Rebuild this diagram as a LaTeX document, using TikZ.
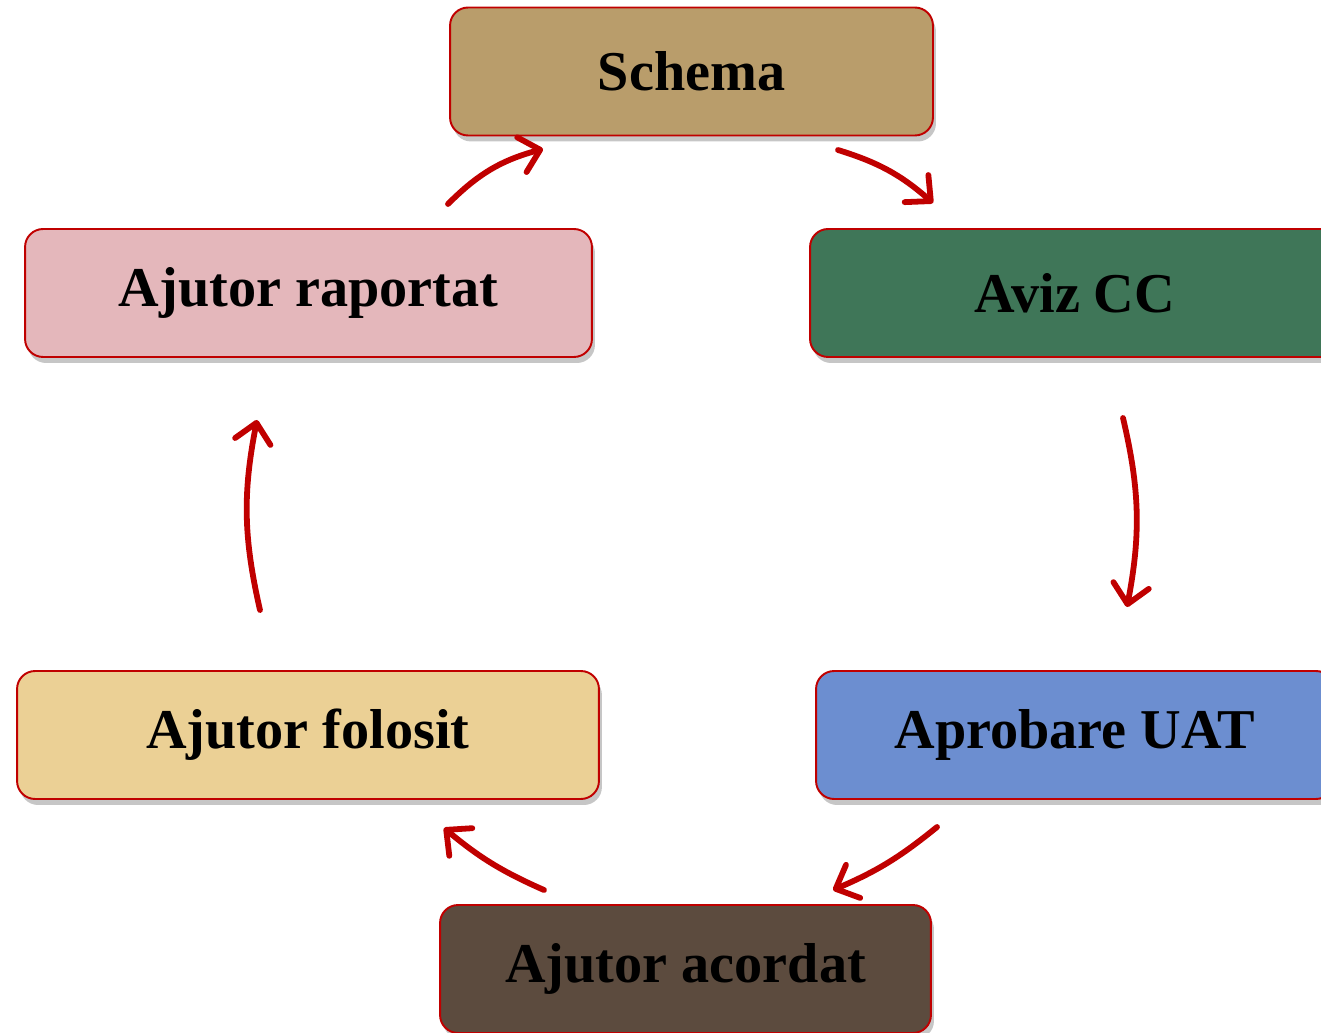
\documentclass[tikz,border=0pt]{standalone}
\usepackage{fontspec}
\setmainfont{Liberation Serif}
\usetikzlibrary{arrows.meta,shadows}

\definecolor{edgered}{HTML}{C00000}
\definecolor{burlap}{HTML}{B99D6B}
\definecolor{rosepaper}{HTML}{E4B7BB}
\definecolor{marblegreen}{HTML}{3F7658}
\definecolor{papyrus}{HTML}{EBD095}
\definecolor{denim}{HTML}{6C8ED0}
\definecolor{leather}{HTML}{5C4B3E}

\begin{document}
\begin{tikzpicture}[x=0.02cm,y=0.02cm,
        stage/.style={draw=edgered, line width=1.1pt, rounded corners=0.36cm,
                      minimum height=2.56cm, inner sep=0pt,
                      font=\fontsize{32}{36}\selectfont\bfseries,
                      drop shadow={shadow xshift=.6mm, shadow yshift=-1.2mm, opacity=.45}},
        flow/.style={edgered, line width=3.3pt, line cap=round,
                     -{Straight Barb[length=3.8mm,width=7.2mm,round]}}]
  \useasboundingbox (0,0) rectangle (1321,1032);
  \clip (0,0) rectangle (1321,1032);

  % the six stages
  \node[stage, fill=burlap,      minimum width=9.66cm]  (schema)   at (691.5,960.5) {Schema};
  \node[stage, fill=rosepaper,   minimum width=11.34cm] (raportat) at (308.5,739)   {Ajutor raportat};
  \node[stage, fill=marblegreen, minimum width=10.6cm]  (aviz)     at (1075,739)    {Aviz CC};
  \node[stage, fill=papyrus,     minimum width=11.64cm] (folosit)  at (308,297)     {Ajutor folosit};
  \node[stage, fill=denim,       minimum width=10.36cm] (aprobare) at (1075,297)    {Aprobare UAT};
  \node[stage, fill=leather,     minimum width=9.82cm]  (acordat)  at (685.5,63)    {Ajutor acordat};

  % free ends of the arrows
  \coordinate (r-out) at (448,828);   \coordinate (s-in)  at (543,883);
  \coordinate (s-out) at (838,882);   \coordinate (v-in)  at (933,829);
  \coordinate (v-out) at (1123,614);  \coordinate (p-in)  at (1127,425);
  \coordinate (p-out) at (937,205);   \coordinate (c-in)  at (833,142);
  \coordinate (c-out) at (544,142);   \coordinate (f-in)  at (444,204);
  \coordinate (f-out) at (260,422);   \coordinate (r-in)  at (257,612);

  \draw[flow] (r-out) to[bend left=15] (s-in);
  \draw[flow] (s-out) to[bend left=12] (v-in);
  \draw[flow] (v-out) to[bend left=12] (p-in);
  \draw[flow] (p-out) to[bend left=8]  (c-in);
  \draw[flow] (c-out) to[bend left=8]  (f-in);
  \draw[flow] (f-out) to[bend left=12] (r-in);
\end{tikzpicture}
\end{document}
